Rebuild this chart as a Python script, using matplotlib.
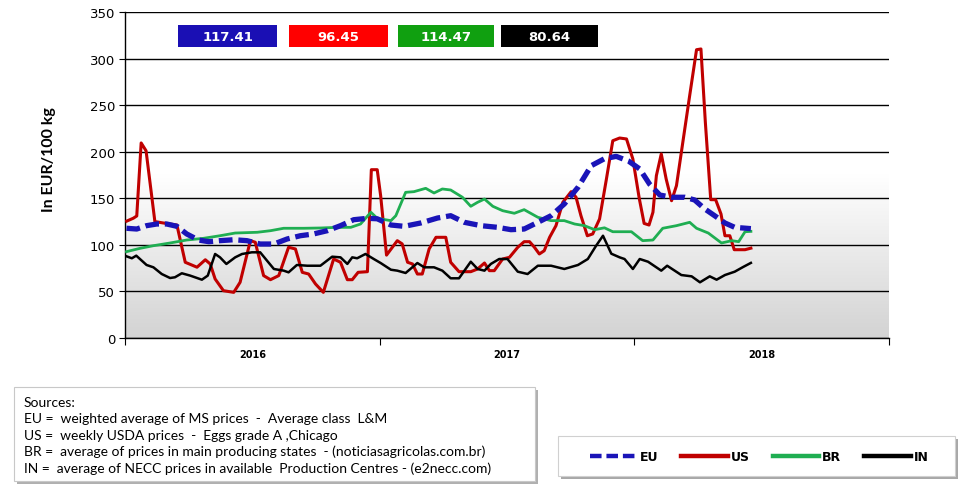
import numpy as np
import matplotlib
matplotlib.use("Agg")
import matplotlib.pyplot as plt
from matplotlib.patches import Rectangle
from matplotlib.colors import LinearSegmentedColormap

# weeks counted from start of 2016
eu_wk = [0.3, 2.4, 4.4, 6.5, 8.5, 10.6, 12.6, 15.0, 17.1, 19.4, 22.2, 24.9, 27.6, 30.4,
         33.1, 35.8, 38.5, 41.3, 44.0, 46.7, 49.5, 51.5, 54.3, 57.0, 60.4, 63.8, 66.5,
         69.3, 72.7, 76.1, 78.8, 81.5, 84.3, 87.0, 89.7, 92.5, 95.2, 97.9, 100.3, 102.8,
         105.1, 107.1, 109.2, 111.6, 114.3, 116.3, 118.4, 120.4, 122.5, 124.5, 127.8]
eu_val = [117.8, 117.0, 120.6, 122.4, 122.4, 119.9, 111.7, 105.2, 103.4, 104.5, 105.5, 104.5,
          100.9, 100.9, 106.3, 109.8, 111.7, 115.2, 120.6, 127.0, 128.5, 128.0, 121.3, 119.9,
          123.5, 128.8, 131.3, 124.2, 120.6, 118.8, 116.3, 117.0, 124.2, 131.3, 143.9, 161.8,
          185.0, 192.5, 195.0, 190.0, 181.5, 165.3, 153.5, 151.1, 151.1, 148.2, 138.5, 131.3,
          123.5, 118.8, 117.41]

us_wk = [0.35, 1.7, 2.4, 3.3, 4.3, 6.1, 7.8, 10.6, 12.3, 14.7, 16.4, 17.4, 18.4, 20.1, 22.2,
         23.5, 25.6, 26.6, 28.3, 29.7, 31.4, 33.4, 34.8, 36.2, 37.5, 38.9, 40.5, 42.6, 44.0,
         45.4, 46.4, 47.6, 49.5, 50.3, 51.5, 52.2, 53.4, 55.6, 56.6, 57.7, 58.7, 59.7, 60.7,
         62.1, 63.5, 65.5, 66.5, 68.2, 70.6, 72.0, 73.4, 74.4, 75.4, 77.1, 78.5, 80.2, 81.5,
         82.6, 83.6, 84.6, 85.6, 86.7, 88.0, 89.4, 91.1, 92.1, 93.1, 94.4, 95.5, 96.9, 98.3,
         99.6, 101.0, 102.4, 103.7, 105.0, 106.0, 107.0, 107.8, 108.5, 109.5, 110.5, 111.6,
         112.6, 114.0, 115.3, 116.7, 117.6, 118.5, 119.6, 120.6, 121.7, 122.5, 123.5, 124.4,
         126.6, 127.8]
us_val = [125.5, 128.6, 131.0, 209.4, 201.0, 125.0, 123.5, 121.3, 81.3, 76.0, 84.0, 79.5,
          63.4, 50.8, 49.0, 59.8, 104.5, 102.8, 67.0, 62.6, 67.0, 97.4, 95.6, 70.5, 68.7, 58.0,
          49.0, 84.8, 81.3, 62.6, 62.6, 70.5, 71.2, 180.7, 180.7, 152.8, 89.0, 104.5, 101.0,
          81.3, 79.5, 68.7, 68.7, 95.6, 108.1, 108.1, 81.3, 71.2, 71.2, 74.1, 80.5, 72.3, 72.3,
          84.8, 86.6, 97.4, 103.4, 103.4, 97.4, 90.2, 93.7, 108.1, 120.6, 145.7, 157.1, 151.1,
          131.3, 109.8, 111.7, 127.8, 170.7, 211.8, 214.7, 213.7, 192.2, 150.0, 123.0, 121.3,
          135.0, 174.3, 197.6, 170.7, 147.4, 163.5, 213.7, 260.2, 309.5, 310.3, 231.6, 148.5,
          148.5, 133.1, 109.8, 109.8, 94.8, 94.8, 96.45]

br_wk = [0.3, 3.1, 5.8, 9.2, 12.6, 16.0, 19.4, 22.5, 27.0, 29.7, 32.4, 36.5, 39.9, 43.3,
         46.1, 48.1, 50.2, 51.5, 52.2, 54.3, 55.3, 57.3, 59.0, 61.4, 63.1, 64.8, 66.5, 68.9,
         70.6, 72.0, 73.4, 75.1, 77.1, 79.5, 81.5, 84.3, 87.0, 89.7, 91.8, 93.8, 95.9, 97.9,
         99.6, 103.4, 105.7, 107.8, 109.8, 112.6, 115.3, 116.7, 119.1, 121.8, 123.9, 125.3,
         126.6, 127.8]
br_val = [92.7, 96.3, 99.1, 102.0, 105.2, 107.0, 109.8, 112.7, 113.5, 115.2, 117.8, 117.8,
          118.1, 118.8, 118.8, 122.4, 135.0, 128.5, 127.8, 126.0, 131.3, 156.4, 157.1, 160.7,
          155.7, 160.0, 158.9, 151.1, 141.4, 145.7, 149.2, 141.4, 136.7, 133.9, 137.8, 129.6,
          126.0, 126.0, 122.4, 120.6, 116.3, 118.3, 114.1, 114.1, 104.5, 105.2, 117.8, 120.6,
          124.2, 117.8, 112.7, 102.0, 104.5, 103.4, 114.1, 114.47]

in_wk = [0.3, 1.4, 2.3, 4.4, 5.8, 7.5, 9.2, 10.2, 11.6, 13.3, 15.7, 16.9, 18.4, 19.4, 20.7,
         22.5, 23.9, 25.9, 27.6, 29.0, 30.4, 32.4, 33.4, 35.1, 37.2, 39.9, 42.3, 44.0, 45.4,
         46.4, 47.4, 49.1, 50.8, 52.2, 54.3, 55.6, 57.3, 59.7, 61.1, 63.1, 64.8, 66.5, 68.2,
         70.6, 72.0, 73.4, 74.7, 76.4, 78.1, 80.2, 82.2, 84.3, 87.0, 89.7, 92.5, 94.5, 96.2,
         97.6, 99.3, 101.0, 102.0, 103.7, 105.1, 106.8, 109.5, 110.7, 113.6, 115.7, 117.4,
         119.4, 120.8, 122.5, 124.5, 126.2, 127.8]
in_val = [87.7, 85.6, 88.4, 78.4, 75.9, 68.7, 64.4, 65.2, 69.5, 67.0, 62.6, 67.0, 90.2, 86.6,
          79.5, 86.6, 90.2, 92.0, 92.0, 83.0, 74.1, 72.3, 70.5, 78.4, 77.6, 77.6, 87.3, 86.6,
          79.5, 86.6, 85.6, 90.2, 84.8, 80.5, 73.3, 72.3, 69.8, 80.5, 75.9, 75.9, 72.3, 64.1,
          64.1, 81.9, 74.1, 72.3, 79.5, 84.8, 84.8, 71.2, 68.7, 77.6, 77.6, 74.1, 78.4, 84.8,
          99.1, 109.8, 90.5, 86.6, 84.8, 74.1, 84.8, 81.9, 72.3, 77.6, 67.6, 66.2, 59.8, 66.2,
          62.6, 67.6, 71.2, 76.2, 80.64]

years = ["2016", "2017", "2018"]
latest = ["117.41", "96.45", "114.47", "80.64"]
names = ["EU", "US", "BR", "IN"]
colors = ["#1a14b8", "#c00000", "#1fae52", "#000000"]
box_colors = ["#1a0fb4", "#ff0000", "#10a010", "#000000"]
sources = [
    "Sources:",
    "EU =  weighted average of MS prices  -  Average class  L&M",
    "US =  weekly USDA prices  -  Eggs grade A ,Chicago",
    "BR =  average of prices in main producing states  - (noticiasagricolas.com.br)",
    "IN =  average of NECC prices in available  Production Centres - (e2necc.com)",
]

W, H = 974, 489
fig = plt.figure(figsize=(W / 100, H / 100), dpi=100)
ax = fig.add_axes([125 / W, 1 - 339 / H, 764 / W, 326 / H])

# grey gradient in the lower part of the plot area
cmap = LinearSegmentedColormap.from_list("g", ["#d3d3d3", "#ffffff"])
grad = np.linspace(0, 1, 256).reshape(-1, 1)
ax.imshow(grad, extent=[0, 156, 0, 175], origin="lower", aspect="auto", cmap=cmap, zorder=0)

ax.plot(eu_wk, eu_val, color=colors[0], lw=3.8, ls=(0, (2.6, 1.1)), label=names[0], zorder=5)
ax.plot(us_wk, us_val, color=colors[1], lw=2.2, label=names[1], zorder=3)
ax.plot(br_wk, br_val, color=colors[2], lw=2.0, label=names[2], zorder=4)
ax.plot(in_wk, in_val, color=colors[3], lw=1.8, label=names[3], zorder=3)

ax.set_xlim(0, 156)
ax.set_ylim(0, 350)
ax.set_yticks(range(0, 351, 50))
ax.yaxis.grid(True, color="black", lw=1)
ax.set_axisbelow(True)
for s in ["top", "right"]:
    ax.spines[s].set_visible(False)
ax.spines["left"].set_linewidth(1)
ax.spines["bottom"].set_linewidth(1)
ax.tick_params(axis="y", length=4, labelsize=9.5, colors="black", pad=3)
ax.set_xticks([0, 52, 104, 156])
ax.set_xticklabels([])
ax.tick_params(axis="x", which="major", length=5, direction="out")
ax.set_xticks([26, 78, 130], minor=True)
ax.set_xticklabels(years, minor=True, fontsize=7, fontweight="bold")
ax.tick_params(axis="x", which="minor", length=0, pad=8)

ax.set_ylabel("In EUR/100 kg", fontsize=11.5, fontweight="bold", family="Lato")
ax.yaxis.set_label_coords(-0.090, 0.55)

# latest value boxes
bx = [178, 289, 398, 501]
bw = [99, 99, 96, 97]
for x0, w, c, t in zip(bx, bw, box_colors, latest):
    fig.add_artist(Rectangle((x0 / W, 1 - 48 / H), w / W, 22 / H, transform=fig.transFigure,
                             facecolor=c, edgecolor="none"))
    fig.text((x0 + w / 2) / W, 1 - 37.5 / H, t, color="white", fontsize=9.5, fontweight="bold",
             ha="center", va="center")

# sources box
fig.add_artist(Rectangle((17 / W, 1 - 485 / H), 521 / W, 94 / H, transform=fig.transFigure,
                         facecolor="#b0b0b0", edgecolor="none"))
fig.add_artist(Rectangle((14 / W, 1 - 482 / H), 521 / W, 94 / H, transform=fig.transFigure,
                         facecolor="white", edgecolor="#c8c8c8", lw=0.8))
for i, line in enumerate(sources):
    fig.text(24 / W, 1 - (403 + i * 16.4) / H, line, fontsize=10, family="Lato",
             ha="left", va="center")

# legend box
fig.add_artist(Rectangle((561 / W, 1 - 480 / H), 397 / W, 40 / H, transform=fig.transFigure,
                         facecolor="#a8a8a8", edgecolor="none"))
fig.add_artist(Rectangle((558 / W, 1 - 477 / H), 397 / W, 40 / H, transform=fig.transFigure,
                         facecolor="white", edgecolor="#d0d0d0", lw=0.8))
leg = fig.legend(loc="center left", bbox_to_anchor=(584 / W, 1 - 458 / H), ncol=4,
                 frameon=False, borderpad=0, handlelength=3.7, handletextpad=0.25,
                 columnspacing=1.85, prop={"weight": "bold", "size": 9})
for h in leg.get_lines():
    h.set_linewidth(3.2)

fig.savefig("out.png", dpi=100)
